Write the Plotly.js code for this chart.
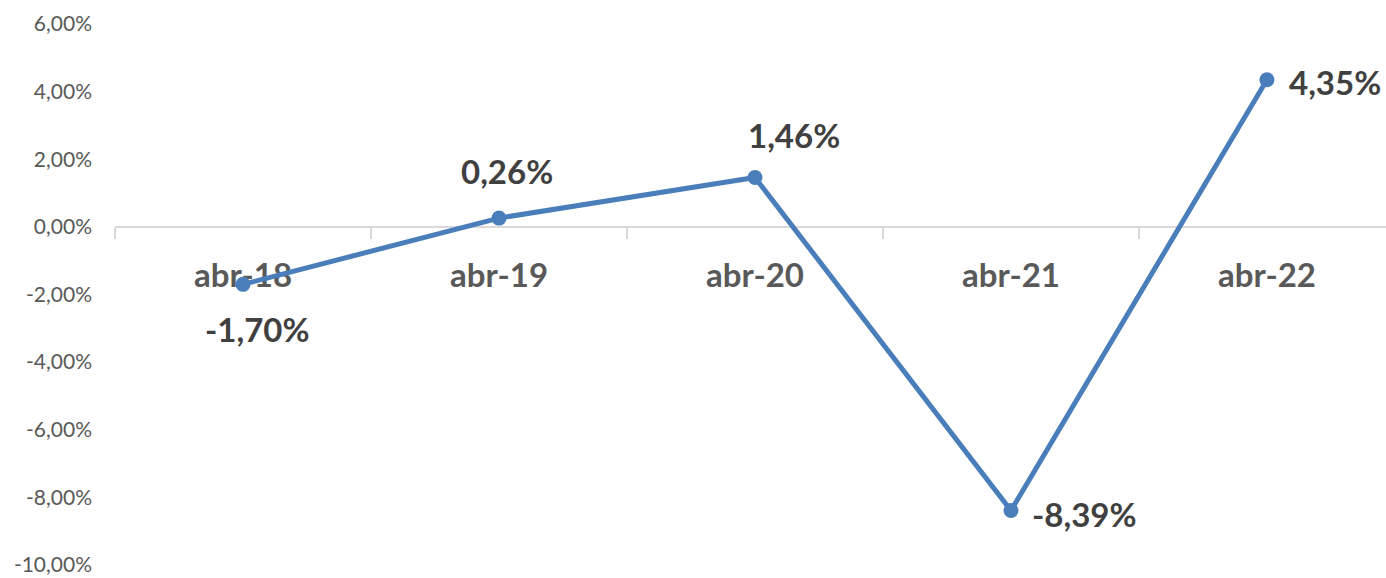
<!DOCTYPE html>
<html>
<head>
<meta charset="utf-8">
<script src="https://cdn.plot.ly/plotly-3.0.1.min.js"></script>
<style>html,body{margin:0;padding:0;background:#fff;}#chart{width:1386px;height:578px;}</style>
</head>
<body>
<div id="chart"></div>
<script>
// Data
const categories = ["abr-18", "abr-19", "abr-20", "abr-21", "abr-22"];
const values = [-1.70, 0.26, 1.46, -8.39, 4.35];
const valueLabels = ["-1,70%", "0,26%", "1,46%", "-8,39%", "4,35%"];
const yTickVals = [-10, -8, -6, -4, -2, 0, 2, 4, 6];
const yTickText = ["-10,00%", "-8,00%", "-6,00%", "-4,00%", "-2,00%", "0,00%", "2,00%", "4,00%", "6,00%"];

// Label placement (style only)
const labelStyle = [
  {xanchor: "center", yanchor: "middle", xshift: 14, yshift: -45},
  {xanchor: "center", yanchor: "middle", xshift: 8, yshift: 47},
  {xanchor: "center", yanchor: "middle", xshift: 39, yshift: 43},
  {xanchor: "left", yanchor: "middle", xshift: 19, yshift: -3},
  {xanchor: "left", yanchor: "middle", xshift: 20, yshift: -2}
];

const font = "Lato, 'Open Sans', sans-serif";
const yMin = -10.385, yMax = 6;

const trace = {
  x: categories,
  y: values,
  type: "scatter",
  mode: "lines+markers",
  line: {color: "#4a7ebb", width: 5},
  marker: {color: "#4a7ebb", size: 15},
  hoverinfo: "skip",
  cliponaxis: false
};

const annotations = categories.map((c, i) => Object.assign({
  x: c, y: values[i], xref: "x", yref: "y",
  text: "<b>" + valueLabels[i] + "</b>",
  showarrow: false,
  font: {family: font, size: 33, color: "#404040"}
}, labelStyle[i]));

const layout = {
  width: 1386, height: 578,
  margin: {l: 115, r: 0, t: 24, b: 0},
  paper_bgcolor: "#ffffff", plot_bgcolor: "#ffffff",
  showlegend: false,
  xaxis: {
    type: "category",
    range: [-0.5, 4.465],
    anchor: "free",
    position: (0 - yMin) / (yMax - yMin),
    showline: true, linecolor: "#d9d9d9", linewidth: 2,
    ticks: "outside", tickson: "boundaries", ticklen: 11, tickcolor: "#d9d9d9", tickwidth: 2,
    showgrid: false, zeroline: false,
    tickfont: {family: font, size: 33, color: "#595959", weight: "bold"},
    ticklabelstandoff: 20,
    layer: "below traces",
    fixedrange: true
  },
  yaxis: {
    range: [yMin, yMax],
    tickvals: yTickVals, ticktext: yTickText,
    showgrid: false, zeroline: false, showline: false,
    ticks: "", ticklabelstandoff: 22,
    ticklabeloverflow: "allow",
    tickfont: {family: font, size: 21, color: "#595959"},
    fixedrange: true
  },
  annotations: annotations
};

Plotly.newPlot("chart", [trace], layout, {displayModeBar: false, staticPlot: true});
</script>
</body>
</html>
